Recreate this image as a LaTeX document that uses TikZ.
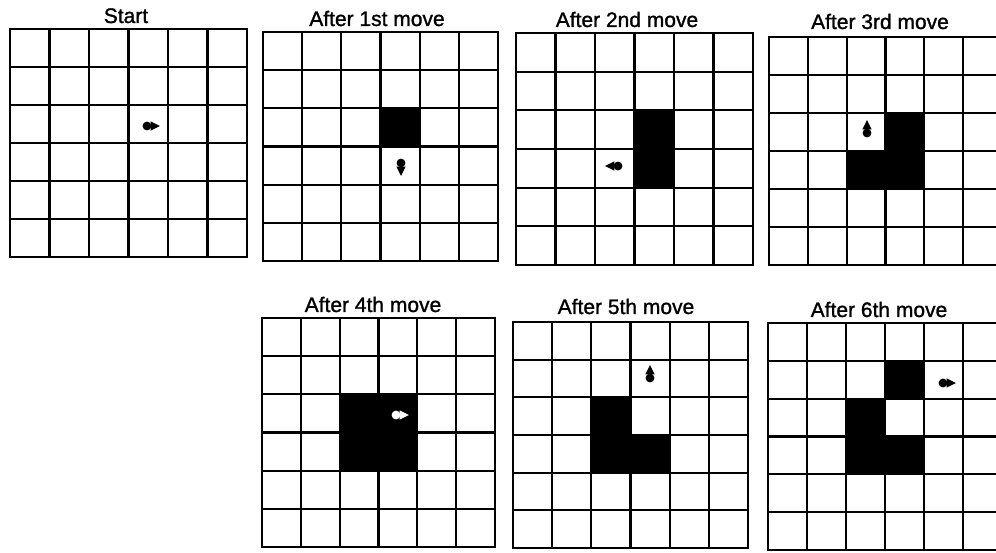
\documentclass[tikz,border=0pt]{standalone}
\usepackage{fontspec}
\setmainfont{Liberation Sans}[FakeBold=1.2]
\begin{document}
\begin{tikzpicture}[x=1pt,y=-1pt,
  gridline/.style={line width=2.2pt,line cap=rect},
  cellfill/.style={fill=black},
  title/.style={anchor=base,inner sep=0pt,font=\fontsize{21}{25}\selectfont},
  pics/agent/.style={code={
    \fill[pic actions] (0,0) circle (4.4);
    \fill[pic actions] (3.6,-4.6) -- (13,0) -- (3.6,4.6) -- cycle;}}]
\useasboundingbox (0,0) rectangle (996,553);
\clip (0,0) rectangle (996,553);
\fill[white] (0,0) rectangle (996,553);

% titles
\node[title] (t0) at (126,23) {Start};
\node[title] (t1) at (377,26) {After 1st move};
\node[title] (t2) at (627,27) {After 2nd move};
\node[title] (t3) at (880,29) {After 3rd move};
\node[title] (t4) at (373,312) {After 4th move};
\node[title] (t5) at (626,314) {After 5th move};
\node[title] (t6) at (879,317) {After 6th move};

% Start
\begin{scope}[shift={(10,29)},xscale=237/6,yscale=228/6]
  \foreach \i in {0,...,6} {\draw[gridline] (\i,0) -- (\i,6); \draw[gridline] (0,\i) -- (6,\i);}
\end{scope}
\pic[fill=black] at (147,126) {agent};

% After 1st move
\begin{scope}[shift={(263,32)},xscale=235/6,yscale=229/6]
  \fill[cellfill] (3,2) rectangle ++(1,1);
  \foreach \i in {0,...,6} {\draw[gridline] (\i,0) -- (\i,6); \draw[gridline] (0,\i) -- (6,\i);}
\end{scope}
\pic[fill=black,rotate=270] at (401,163) {agent};

% After 2nd move
\begin{scope}[shift={(516,33)},xscale=237/6,yscale=232/6]
  \fill[cellfill] (3,2) rectangle ++(1,2);
  \foreach \i in {0,...,6} {\draw[gridline] (\i,0) -- (\i,6); \draw[gridline] (0,\i) -- (6,\i);}
\end{scope}
\pic[fill=black,rotate=180] at (618,166) {agent};

% After 3rd move
\begin{scope}[shift={(769,37)},xscale=233/6,yscale=228/6]
  \fill[cellfill] (3,2) rectangle ++(1,2);
  \fill[cellfill] (2,3) rectangle ++(1,1);
  \foreach \i in {0,...,6} {\draw[gridline] (\i,0) -- (\i,6); \draw[gridline] (0,\i) -- (6,\i);}
\end{scope}
\pic[fill=black,rotate=90] at (867,133) {agent};

% After 4th move
\begin{scope}[shift={(262,318)},xscale=233/6,yscale=229/6]
  \fill[cellfill] (2,2) rectangle ++(2,2);
  \foreach \i in {0,...,6} {\draw[gridline] (\i,0) -- (\i,6); \draw[gridline] (0,\i) -- (6,\i);}
\end{scope}
\pic[fill=white] at (396,415) {agent};

% After 5th move
\begin{scope}[shift={(513,322)},xscale=235/6,yscale=226/6]
  \fill[cellfill] (2,2) rectangle ++(1,2);
  \fill[cellfill] (3,3) rectangle ++(1,1);
  \foreach \i in {0,...,6} {\draw[gridline] (\i,0) -- (\i,6); \draw[gridline] (0,\i) -- (6,\i);}
\end{scope}
\pic[fill=black,rotate=90] at (650,378) {agent};

% After 6th move
\begin{scope}[shift={(768,323)},xscale=234/6,yscale=227/6]
  \fill[cellfill] (3,1) rectangle ++(1,1);
  \fill[cellfill] (2,2) rectangle ++(1,2);
  \fill[cellfill] (3,3) rectangle ++(1,1);
  \foreach \i in {0,...,6} {\draw[gridline] (\i,0) -- (\i,6); \draw[gridline] (0,\i) -- (6,\i);}
\end{scope}
\pic[fill=black] at (943,383) {agent};
\end{tikzpicture}
\end{document}
